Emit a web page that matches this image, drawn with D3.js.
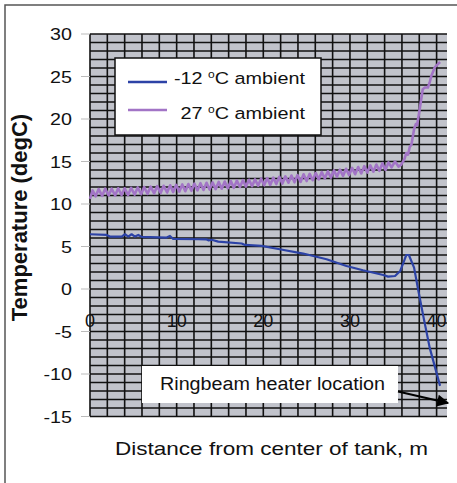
<!DOCTYPE html>
<html>
<head>
<meta charset="utf-8">
<script src="https://cdn.jsdelivr.net/npm/d3@7"></script>
<style>
  html, body { margin: 0; padding: 0; background: #fff; }
  svg { display: block; }
  text { font-family: "Liberation Sans", Arial, Helvetica, sans-serif; fill: #111; }
</style>
</head>
<body>
<svg id="chart" width="457" height="483"></svg>
<script>
// Axis ticks
const xTickValues = [0, 10, 20, 30, 40];
const yTickValues = [-15, -10, -5, 0, 5, 10, 15, 20, 25, 30];

// Series labels
const seriesLabels = ["-12", "27"];

// Temperature profile, -12 °C ambient: [distance m, temperature degC]
const coldAmbient = [
  [0, 6.44], [1.9, 6.36], [2.3, 6.17], [3.66, 6.17], [4.04, 6.44], [4.42, 6.17],
  [4.8, 6.44], [5.19, 6.17], [5.57, 6.36], [5.96, 6.13], [8.85, 6.05], [9.23, 6.24],
  [9.6, 5.89], [12.5, 5.85], [13.4, 5.85], [13.7, 5.72], [14.04, 5.8], [14.8, 5.58],
  [17.5, 5.35], [17.9, 5.18], [19.8, 5.07], [21.9, 4.68], [24.6, 4.17], [27.3, 3.5],
  [29.6, 2.71], [31.5, 2.2], [33.85, 1.65], [34.4, 1.46], [35.2, 1.53], [35.8, 2.12],
  [36.25, 3.3], [36.5, 4.0], [36.8, 4.0], [37.4, 2.52], [37.9, -0.23], [38.5, -3.37],
  [39.2, -6.9], [40.4, -11.4]
];

// Temperature profile, 27 °C ambient: [distance m, temperature degC]
const warmAmbient = [
  [0, 10.6], [0.3, 11.6], [0.65, 10.9], [1.0, 11.75], [1.4, 10.95], [1.75, 11.8],
  [2.15, 11.0], [2.5, 11.8], [2.9, 11.0], [3.25, 11.85], [3.65, 11.05], [4.0, 11.85],
  [4.4, 11.05], [4.75, 11.9], [5.15, 11.1], [5.5, 11.95], [5.9, 11.15], [6.25, 12.0],
  [6.65, 11.2], [7.0, 12.05], [7.4, 11.25], [7.75, 12.1], [8.15, 11.3], [8.5, 12.15],
  [8.9, 11.35], [9.25, 12.2], [9.6, 11.4], [9.95, 12.25], [10.3, 11.45], [10.65, 12.3],
  [11.0, 11.5], [11.35, 12.35], [11.7, 11.55], [12.05, 12.4], [12.4, 11.6], [12.75, 12.45],
  [13.1, 11.65], [13.45, 12.5], [13.8, 11.7], [14.15, 12.55], [14.5, 11.75], [14.85, 12.6],
  [15.2, 11.8], [15.55, 12.65], [15.9, 11.85], [16.25, 12.7], [16.6, 11.9], [16.95, 12.75],
  [17.3, 12.0], [17.65, 12.8], [18.0, 12.05], [18.35, 12.85], [18.7, 12.1], [19.05, 12.9],
  [19.4, 12.15], [19.75, 13.0], [20.1, 12.2], [20.45, 13.05], [20.8, 12.25], [21.15, 13.1],
  [21.5, 12.35], [21.85, 13.2], [22.2, 12.4], [22.55, 13.25], [22.9, 12.5], [23.25, 13.35],
  [23.6, 12.55], [23.95, 13.4], [24.3, 12.6], [24.65, 13.5], [25.0, 12.7], [25.35, 13.55],
  [25.7, 12.8], [26.05, 13.65], [26.4, 12.9], [26.75, 13.75], [27.1, 13.0], [27.45, 13.85],
  [27.8, 13.1], [28.15, 13.95], [28.5, 13.2], [28.85, 14.05], [29.2, 13.3], [29.55, 14.15],
  [29.9, 13.4], [30.25, 14.25], [30.6, 13.5], [30.95, 14.35], [31.3, 13.6], [31.65, 14.45],
  [32.0, 13.7], [32.35, 14.55], [32.7, 13.8], [33.05, 14.65], [33.4, 13.9], [33.75, 14.8],
  [34.1, 14.0], [34.45, 14.9], [34.8, 14.3], [35.2, 15.0], [35.6, 14.4], [35.9, 14.6],
  [36.3, 15.3], [36.5, 16.0], [36.7, 15.8], [36.9, 16.7], [37.1, 17.0], [37.4, 18.8],
  [37.6, 19.4], [37.75, 19.3], [37.9, 20.2], [38.1, 21.5], [38.4, 23.5], [38.65, 23.7],
  [39.0, 23.7], [39.2, 24.3], [39.4, 25.1], [39.8, 26.1], [40.4, 26.7]
];

const colors = { cold: "#2c42a6", warm: "#a274c6" };

const svg = d3.select("#chart");
const x = d3.scaleLinear().domain([0, 41.2]).range([90, 447]);
const y = d3.scaleLinear().domain([-15, 30]).range([416.5, 34]);

// outer frame
svg.append("rect")
  .attr("x", 5).attr("y", 5).attr("width", 470).attr("height", 500)
  .attr("fill", "none").attr("stroke", "#555").attr("stroke-width", 1.5);

// plot background
svg.append("rect")
  .attr("x", x(0)).attr("y", y(30))
  .attr("width", x(41.2) - x(0)).attr("height", y(-15) - y(30))
  .attr("fill", "#c1c3cb");

// grid: every 1 degC, every 2 m
const grid = svg.append("g").attr("stroke", "#111").attr("stroke-width", 1.6);
grid.selectAll("line.h").data(d3.range(-15, 31, 1)).join("line")
  .attr("class", "h")
  .attr("x1", x(0)).attr("x2", x(41.2))
  .attr("y1", d => y(d)).attr("y2", d => y(d));
grid.selectAll("line.v").data(d3.range(0, 41, 2)).join("line")
  .attr("class", "v")
  .attr("x1", d => x(d)).attr("x2", d => x(d))
  .attr("y1", y(30)).attr("y2", y(-15));

// y axis tick marks + labels
svg.append("g").selectAll("line").data(yTickValues).join("line")
  .attr("x1", 81).attr("x2", x(0))
  .attr("y1", d => y(d)).attr("y2", d => y(d))
  .attr("stroke", "#bbb").attr("stroke-width", 1);
svg.append("g").selectAll("text").data(yTickValues).join("text")
  .attr("transform", d => `translate(72,${y(d) + 6}) scale(1.23,1)`)
  .attr("text-anchor", "end")
  .attr("font-size", 16)
  .text(d => d);

// x tick labels sit on the zero line inside the plot
svg.append("g").selectAll("text").data(xTickValues).join("text")
  .attr("x", d => x(d)).attr("y", y(0) + 38)
  .attr("text-anchor", "middle")
  .attr("font-size", 18)
  .text(d => d);

// series
const line = d3.line().x(d => x(d[0])).y(d => y(d[1]));
svg.append("path").datum(warmAmbient)
  .attr("d", line).attr("fill", "none")
  .attr("stroke", colors.warm).attr("stroke-width", 2.6)
  .attr("stroke-linejoin", "round");
svg.append("path").datum(coldAmbient)
  .attr("d", line).attr("fill", "none")
  .attr("stroke", colors.cold).attr("stroke-width", 2.2)
  .attr("stroke-linejoin", "round");

// legend
const legend = svg.append("g");
legend.append("rect")
  .attr("x", 115).attr("y", 58).attr("width", 206).attr("height", 77)
  .attr("fill", "#fff").attr("stroke", "#111").attr("stroke-width", 1.5);
const legendRows = [
  { label: seriesLabels[0], color: colors.cold, ly: 82, ty: 84 },
  { label: seriesLabels[1], color: colors.warm, ly: 110, ty: 119 }
];
legendRows.forEach(r => {
  legend.append("line")
    .attr("x1", 128).attr("x2", 167).attr("y1", r.ly).attr("y2", r.ly)
    .attr("stroke", r.color).attr("stroke-width", 2.6);
  const t = legend.append("text")
    .attr("transform", `translate(305,${r.ty}) scale(1.2,1)`)
    .attr("text-anchor", "end")
    .attr("font-size", 16.5);
  t.append("tspan").text(r.label + " ");
  t.append("tspan").attr("font-size", 10).attr("dy", -6).text("o");
  t.append("tspan").attr("dy", 6).text("C ambient");
});

// annotation
svg.append("rect")
  .attr("x", 142).attr("y", 366).attr("width", 256).attr("height", 37)
  .attr("fill", "#fff");
svg.append("text")
  .attr("x", 160).attr("y", 390)
  .attr("font-size", 18)
  .attr("textLength", 225).attr("lengthAdjust", "spacingAndGlyphs")
  .text("Ringbeam heater location");
svg.append("defs").append("marker")
  .attr("id", "arrowhead").attr("viewBox", "0 0 10 10")
  .attr("refX", 9).attr("refY", 5)
  .attr("markerWidth", 7).attr("markerHeight", 6)
  .attr("markerUnits", "strokeWidth")
  .attr("orient", "auto")
  .append("path").attr("d", "M0,0 L10,5 L0,10 Z").attr("fill", "#000");
svg.append("line")
  .attr("x1", 398).attr("y1", 391.5).attr("x2", 448).attr("y2", 403)
  .attr("stroke", "#000").attr("stroke-width", 2)
  .attr("marker-end", "url(#arrowhead)");

// axis titles
svg.append("text")
  .attr("transform", "translate(27,217.5) rotate(-90)")
  .attr("text-anchor", "middle")
  .attr("font-size", 22).attr("font-weight", "bold")
  .text("Temperature (degC)");
svg.append("text")
  .attr("x", 115).attr("y", 455)
  .attr("font-size", 18.5)
  .attr("textLength", 313).attr("lengthAdjust", "spacingAndGlyphs")
  .text("Distance from center of tank, m");
</script>
</body>
</html>
